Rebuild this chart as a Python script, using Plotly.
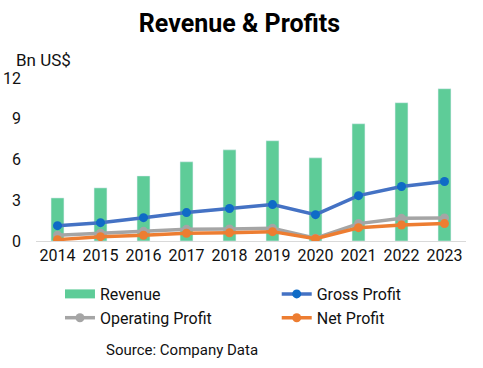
import plotly.graph_objects as go

years = ["2014", "2015", "2016", "2017", "2018", "2019", "2020", "2021", "2022", "2023"]
revenue = [3.17, 3.91, 4.79, 5.83, 6.71, 7.38, 6.12, 8.63, 10.18, 11.21]
gross_profit = [1.13, 1.35, 1.72, 2.09, 2.39, 2.68, 1.94, 3.34, 4.01, 4.38]
operating_profit = [0.42, 0.57, 0.71, 0.86, 0.88, 0.93, 0.20, 1.28, 1.67, 1.70]
net_profit = [0.10, 0.32, 0.42, 0.57, 0.61, 0.69, 0.17, 0.98, 1.18, 1.28]
y_ticks = [0, 3, 6, 9, 12]

FONT = "Roboto"
W, H = 483, 368
PL, PR, PT, PB = 36, 466.5, 78, 241  # plot area in screen px
PW, PH = PR - PL, PB - PT


def px_x(px):
    return (px - PL) / PW


def px_y(py):
    return (PB - py) / PH


fig = go.Figure()
fig.add_trace(go.Bar(x=years, y=revenue, name="Revenue", marker_color="#5ECC98", width=0.3,
                     showlegend=False))
# legend-only entry drawn as a wide green swatch like the reference
fig.add_trace(go.Scatter(x=[None], y=[None], name="Revenue", mode="lines",
                         line=dict(color="#5ECC98", width=9), legend="legend", legendrank=1))
fig.add_trace(go.Scatter(x=years, y=gross_profit, name="Gross Profit", mode="lines+markers",
                         line=dict(color="#4472C4", width=3.5), marker=dict(color="#0F6BC6", size=9),
                         legend="legend2", legendrank=1))
fig.add_trace(go.Scatter(x=years, y=operating_profit, name="Operating Profit", mode="lines+markers",
                         line=dict(color="#A5A5A5", width=3.5), marker=dict(color="#A5A5A5", size=9),
                         legend="legend", legendrank=2))
fig.add_trace(go.Scatter(x=years, y=net_profit, name="Net Profit", mode="lines+markers",
                         line=dict(color="#ED7D31", width=3.5), marker=dict(color="#ED7D31", size=9),
                         legend="legend2", legendrank=2))

leg_common = dict(orientation="v", xanchor="left", yanchor="top", traceorder="normal",
                  font=dict(family=FONT, size=16, color="#111111"), itemwidth=30,
                  bgcolor="rgba(0,0,0,0)", tracegroupgap=0)

fig.update_layout(
    width=W, height=H,
    margin=dict(l=PL, r=W - PR, t=PT, b=H - PB, autoexpand=False),
    paper_bgcolor="white", plot_bgcolor="white",
    font=dict(family=FONT, size=16, color="#111111"),
    title=dict(text="<b>Revenue & Profits</b>", x=239.5 / W, xref="container", xanchor="center",
               y=1 - 23 / H, yref="container", yanchor="middle",
               font=dict(family=FONT, size=25, color="black", weight=900)),
    showlegend=True,
    legend=dict(x=px_x(60), y=px_y(277), **leg_common),
    legend2=dict(x=px_x(277), y=px_y(277), **leg_common),
    xaxis=dict(range=[-0.5, len(years) - 0.5], showgrid=False, showline=True,
               linecolor="#D9D9D9", linewidth=1,
               ticks="", tickangle=0, tickfont=dict(size=16), automargin=False),
    yaxis=dict(range=[0, 12], tickvals=y_ticks, showgrid=False, zeroline=False,
               showline=False, ticks="", ticklabelstandoff=14, tickfont=dict(size=16),
               automargin=False),
    annotations=[
        dict(text="Bn US$", xref="paper", yref="paper", x=px_x(14), y=px_y(60),
             xanchor="left", yanchor="middle", showarrow=False, font=dict(family=FONT, size=17)),
        dict(text="Source: Company Data", xref="paper", yref="paper", x=px_x(104),
             y=px_y(350), xanchor="left", yanchor="middle", showarrow=False,
             font=dict(family=FONT, size=15)),
    ],
)

# remove the browser's default 8px body margin so the figure sits at the window's corner
fig.write_html("out.html", config={"displayModeBar": False},
               post_script="document.body.style.margin='0';")
